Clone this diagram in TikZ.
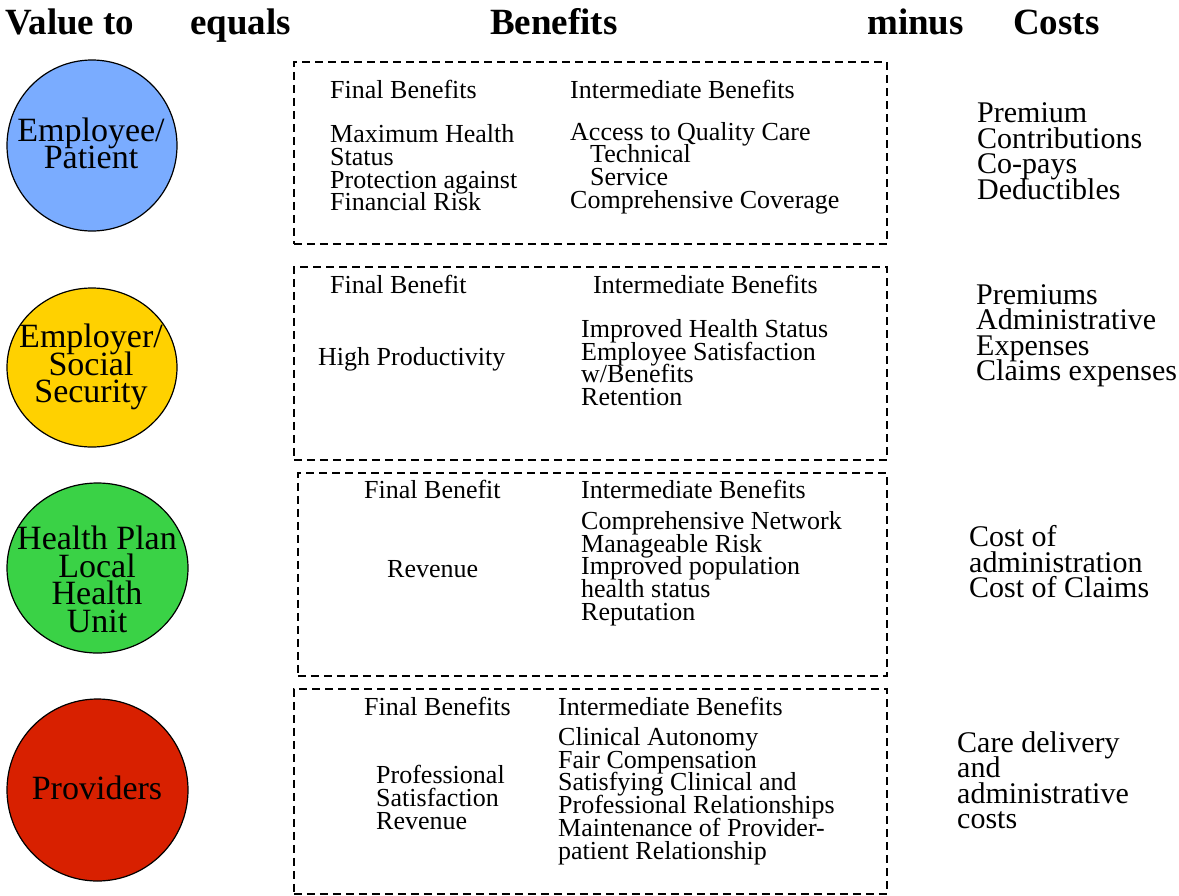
\documentclass[tikz,border=0pt]{standalone}
\usepackage{fontspec}
\setmainfont{Liberation Serif}
\usepackage{tikz}
\usetikzlibrary{shapes.geometric}
\definecolor{patientblue}{RGB}{122,172,255}
\definecolor{employeryellow}{RGB}{255,209,0}
\definecolor{plangreen}{RGB}{58,210,70}
\definecolor{providerred}{RGB}{216,32,0}
\newcommand{\tightlines}[2]{\fontsize{#1}{#2}\selectfont\lineskiplimit=-100pt\lineskip=0pt}

\begin{document}
\begin{tikzpicture}[x=1pt,y=-1pt,
  head/.style={font=\fontsize{37}{37}\selectfont\bfseries,anchor=base west,inner sep=0pt},
  party/.style={ellipse,draw,line width=1.2pt,inner sep=0pt},
  partytext/.style={font=\tightlines{34}{27.5},align=center,inner sep=0pt},
  benbox/.style={draw,dash pattern=on 8pt off 5pt,line width=1.5pt,anchor=north west,inner sep=0pt},
  ben/.style={font=\tightlines{26}{22.7},align=left,anchor=west,inner sep=0pt},
  cost/.style={font=\tightlines{30}{25.5},align=left,anchor=west,inner sep=0pt}]
\useasboundingbox (0,0) rectangle (1179,895);

% heading
\node[head] (hvalue) at (5,34) {Value to};
\node[head] (hequals) at (190,34) {equals};
\node[head] (hbenefits) at (490,34) {Benefits};
\node[head] (hminus) at (867,34) {minus};
\node[head] (hcosts) at (1013,34) {Costs};

% stakeholders
\node[party,fill=patientblue,minimum width=170pt,minimum height=171pt] (patient) at (92,145.5) {};
\node[partytext] (patientlbl) at (91,143.5) {Employee/\\Patient};
\node[party,fill=employeryellow,minimum width=170pt,minimum height=159pt] (employer) at (92,367.5) {};
\node[partytext] (employerlbl) at (91,367) {Employer/\\Social\\Security};
\node[party,fill=plangreen,minimum width=181pt,minimum height=170pt] (plan) at (97.5,568) {};
\node[partytext] (planlbl) at (97,579.5) {Health Plan\\Local\\Health\\Unit};
\node[party,fill=providerred,minimum width=181pt,minimum height=182pt] (providers) at (97.5,790) {};
\node[partytext] (providerslbl) at (97,788) {Providers};

% benefit boxes
\node[benbox,minimum width=593pt,minimum height=182pt] (box1) at (293,61) {};
\node[benbox,minimum width=593pt,minimum height=193pt] (box2) at (293,266) {};
\node[benbox,minimum width=589pt,minimum height=203pt] (box3) at (297,472) {};
\node[benbox,minimum width=593pt,minimum height=205pt] (box4) at (293,688) {};

% patient
\node[ben] (fin1) at (330,89) {Final Benefits};
\node[ben] (int1) at (570,89) {Intermediate Benefits};
\node[ben] (finlist1) at (330,168) {Maximum Health\\Status\\Protection against\\Financial Risk};
\node[ben] (intlist1) at (570,168) {Access to Quality Care\\\hspace*{20pt}Technical\\\hspace*{20pt}Service\\Comprehensive Coverage};
\node[cost] (cost1) at (977,151) {Premium\\Contributions\\Co-pays\\Deductibles};

% employer
\node[ben] (fin2) at (330,284) {Final Benefit};
\node[ben] (int2) at (593,284) {Intermediate Benefits};
\node[ben] (finlist2) at (318,359) {High Productivity};
\node[ben] (intlist2) at (581,362.5) {Improved Health Status\\Employee Satisfaction\\w/Benefits\\Retention};
\node[cost] (cost2) at (976,336) {Premiums\\Administrative\\Expenses\\Claims expenses};

% health plan
\node[ben] (fin3) at (364,489) {Final Benefit};
\node[ben] (int3) at (581,489) {Intermediate Benefits};
\node[ben] (finlist3) at (387,569) {Revenue};
\node[ben] (intlist3) at (581,568.5) {Comprehensive Network\\Manageable Risk\\Improved population\\health status\\Reputation};
\node[cost] (cost3) at (969,562) {Cost of\\administration\\Cost of Claims};

% providers
\node[ben] (fin4) at (364,706) {Final Benefits};
\node[ben] (int4) at (558,706) {Intermediate Benefits};
\node[ben] (finlist4) at (376,797.5) {Professional\\Satisfaction\\Revenue};
\node[ben] (intlist4) at (558,796) {Clinical Autonomy\\Fair Compensation\\Satisfying Clinical and\\Professional Relationships\\Maintenance of Provider-\\patient Relationship};
\node[cost] (cost4) at (957,780) {Care delivery\\and\\administrative\\costs};
\end{tikzpicture}
\end{document}
